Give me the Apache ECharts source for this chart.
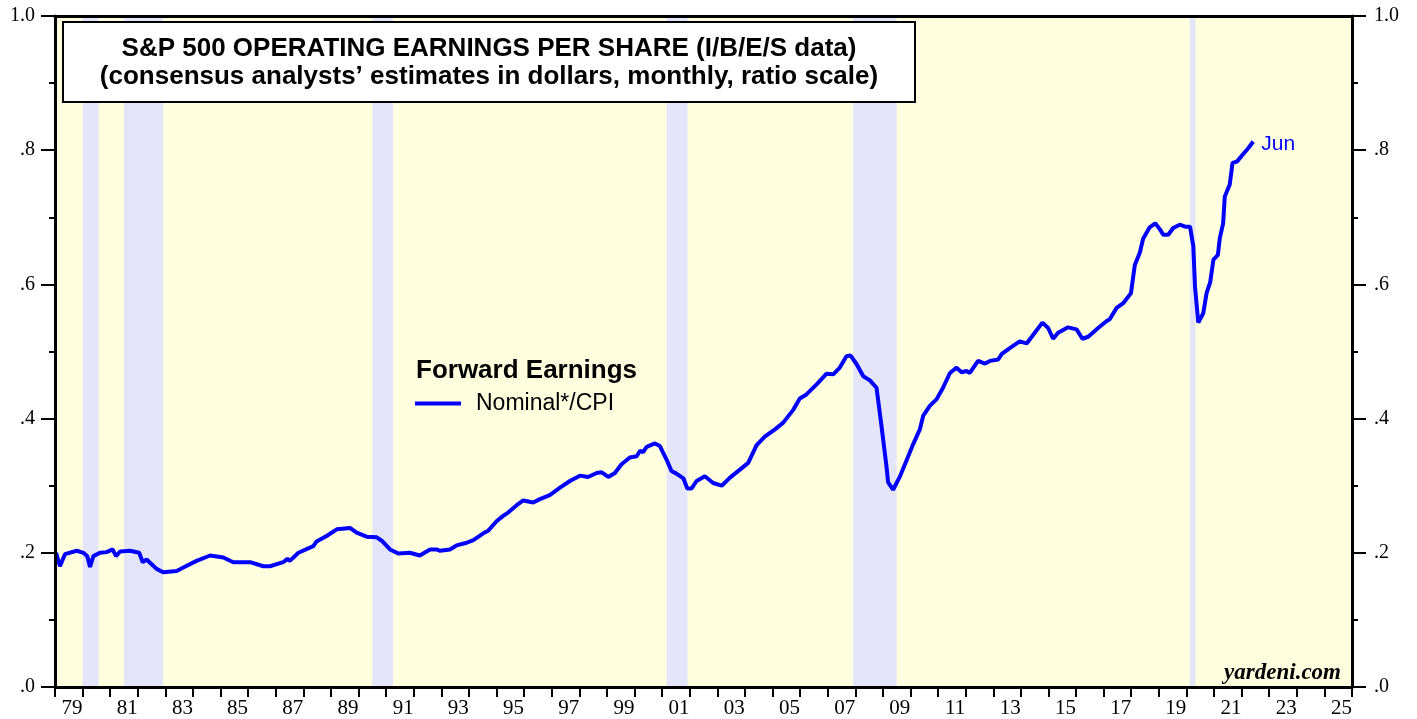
<!DOCTYPE html>
<html>
<head>
<meta charset="utf-8">
<title>S&amp;P 500 Forward Earnings / CPI</title>
<script src="https://cdn.jsdelivr.net/npm/echarts@6/dist/echarts.min.js"></script>
<style>
  html, body { margin: 0; padding: 0; background: #fff; }
  #chart { width: 1417px; height: 719px; }
</style>
</head>
<body>
<div id="chart"></div>
<script>
// forward earnings (nominal / CPI), date as decimal year
const dates = [
  1979.04, 1979.18, 1979.36, 1979.79, 1980.03, 1980.17, 1980.27, 1980.39, 1980.63, 1980.87,
  1981.09, 1981.21, 1981.36, 1981.72, 1982.05, 1982.18, 1982.32, 1982.68, 1982.92, 1983.41,
  1983.65, 1984.13, 1984.62, 1985.10, 1985.46, 1986.07, 1986.55, 1986.79, 1987.27, 1987.42,
  1987.51, 1987.82, 1988.36, 1988.48, 1988.84, 1989.21, 1989.69, 1989.93, 1990.29, 1990.66,
  1990.84, 1991.14, 1991.44, 1991.86, 1992.22, 1992.59, 1992.83, 1992.95, 1993.31, 1993.55,
  1993.92, 1994.16, 1994.52, 1994.70, 1995.00, 1995.24, 1995.42, 1995.73, 1995.97, 1996.33,
  1996.57, 1996.93, 1997.30, 1997.66, 1998.02, 1998.32, 1998.63, 1998.81, 1999.05, 1999.29,
  1999.53, 1999.83, 2000.08, 2000.20, 2000.31, 2000.44, 2000.74, 2000.92, 2001.16, 2001.34,
  2001.52, 2001.77, 2001.91, 2002.07, 2002.25, 2002.55, 2002.85, 2003.16, 2003.46, 2003.82,
  2004.12, 2004.42, 2004.72, 2005.09, 2005.39, 2005.75, 2005.99, 2006.23, 2006.60, 2006.96,
  2007.20, 2007.44, 2007.68, 2007.83, 2008.05, 2008.29, 2008.53, 2008.77, 2008.95, 2009.13,
  2009.19, 2009.37, 2009.62, 2009.86, 2010.10, 2010.34, 2010.46, 2010.70, 2010.95, 2011.18,
  2011.43, 2011.67, 2011.85, 2012.03, 2012.15, 2012.45, 2012.70, 2012.88, 2013.18, 2013.30,
  2013.60, 2013.96, 2014.21, 2014.45, 2014.78, 2014.99, 2015.17, 2015.35, 2015.71, 2016.02,
  2016.23, 2016.44, 2016.80, 2017.10, 2017.22, 2017.47, 2017.71, 2017.99, 2018.13, 2018.31,
  2018.43, 2018.67, 2018.87, 2019.04, 2019.16, 2019.34, 2019.52, 2019.76, 2019.95, 2020.13,
  2020.25, 2020.31, 2020.43, 2020.61, 2020.73, 2020.86, 2020.98, 2021.14, 2021.21, 2021.33,
  2021.39, 2021.57, 2021.67, 2021.83, 2022.05, 2022.24, 2022.42
];
const values = [
  0.200, 0.180, 0.198, 0.203, 0.200, 0.195, 0.179, 0.195, 0.200, 0.201,
  0.205, 0.195, 0.202, 0.203, 0.200, 0.186, 0.190, 0.176, 0.171, 0.173,
  0.178, 0.188, 0.196, 0.193, 0.186, 0.186, 0.180, 0.180, 0.186, 0.191,
  0.188, 0.200, 0.210, 0.217, 0.225, 0.235, 0.237, 0.230, 0.224, 0.223,
  0.218, 0.205, 0.199, 0.200, 0.196, 0.205, 0.205, 0.203, 0.205, 0.211,
  0.215, 0.219, 0.229, 0.233, 0.247, 0.255, 0.260, 0.271, 0.278, 0.275,
  0.280, 0.286, 0.297, 0.307, 0.315, 0.313, 0.319, 0.320, 0.313, 0.319,
  0.332, 0.342, 0.344, 0.352, 0.350, 0.358, 0.363, 0.359, 0.339, 0.322,
  0.318, 0.311, 0.296, 0.296, 0.307, 0.314, 0.304, 0.300, 0.312, 0.324,
  0.334, 0.360, 0.373, 0.384, 0.394, 0.413, 0.430, 0.436, 0.451, 0.467,
  0.466, 0.476, 0.493, 0.494, 0.481, 0.463, 0.457, 0.446, 0.389, 0.329,
  0.305, 0.294, 0.314, 0.338, 0.362, 0.384, 0.404, 0.419, 0.429, 0.446,
  0.468, 0.476, 0.469, 0.471, 0.468, 0.486, 0.482, 0.486, 0.488, 0.496,
  0.505, 0.515, 0.512, 0.525, 0.543, 0.535, 0.519, 0.528, 0.536, 0.533,
  0.519, 0.522, 0.535, 0.545, 0.548, 0.565, 0.572, 0.587, 0.629, 0.647,
  0.668, 0.685, 0.691, 0.682, 0.674, 0.674, 0.684, 0.689, 0.686, 0.686,
  0.657, 0.597, 0.543, 0.557, 0.587, 0.603, 0.637, 0.644, 0.669, 0.691,
  0.731, 0.749, 0.781, 0.783, 0.794, 0.803, 0.813
];

// recessions (shaded)
const recStart = [1980.00, 1981.50, 1990.50, 2001.16, 2007.92, 2020.12];
const recEnd   = [1980.58, 1982.92, 1991.25, 2001.92, 2009.50, 2020.33];

const seriesName = 'Nominal*/CPI';
const lastLabel = 'Jun';
const titleLines = [
  'S&P 500 OPERATING EARNINGS PER SHARE (I/B/E/S data)',
  '(consensus analysts\u2019 estimates in dollars, monthly, ratio scale)'
];

const SANS = '"Liberation Sans", Arial, sans-serif';
const SERIF = '"Liberation Serif", "Times New Roman", serif';

const chart = echarts.init(document.getElementById('chart'));

function yLabel(v) {
  if (v >= 1) return '1.0';
  return '.' + Math.round(v * 10);
}

function yAxisCfg(pos, margin) {
  return {
    type: 'value',
    position: pos,
    min: 0,
    max: 1,
    interval: 0.2,
    z: 5,
    axisLine: { show: true, lineStyle: { color: '#000', width: 3 } },
    axisTick: { show: true, inside: false, length: 14, lineStyle: { color: '#000', width: 2 } },
    minorTick: { show: true, splitNumber: 2, length: 6, lineStyle: { color: '#000', width: 2 } },
    axisLabel: {
      margin: margin,
      formatter: yLabel,
      color: '#000',
      fontFamily: SERIF,
      fontSize: 20
    },
    splitLine: { show: false }
  };
}

const option = {
  animation: false,
  backgroundColor: '#fff',
  grid: {
    left: 55, right: 65, top: 16, bottom: 31,
    show: true,
    borderWidth: 0,
    backgroundColor: '#FFFFE0'
  },
  xAxis: [{
    type: 'value',
    min: 1979,
    max: 2026,
    interval: 1,
    z: 5,
    axisLine: { show: true, onZero: false, lineStyle: { color: '#000', width: 3 } },
    axisTick: { show: true, length: 10, lineStyle: { color: '#000', width: 2 } },
    axisLabel: {
      margin: 11,
      color: '#000',
      fontFamily: SERIF,
      fontSize: 21,
      padding: [0, 0, 0, 34],
      showMinLabel: true,
      showMaxLabel: true,
      formatter: function (v) {
        if (v % 2 === 1 && v < 2026) return String(v % 100).padStart(2, '0');
        return '';
      }
    },
    splitLine: { show: false }
  }, {
    type: 'value',
    position: 'top',
    min: 1979,
    max: 2026,
    z: 5,
    axisLine: { show: true, onZero: false, lineStyle: { color: '#000', width: 3 } },
    axisTick: { show: false },
    axisLabel: { show: false },
    splitLine: { show: false }
  }],
  yAxis: [yAxisCfg('left', 20), yAxisCfg('right', 22)],
  legend: {
    data: [seriesName],
    left: 410,
    top: 387,
    icon: 'rect',
    itemWidth: 46,
    itemHeight: 4,
    selectedMode: false,
    textStyle: {
      color: '#000',
      fontFamily: SANS,
      fontSize: 23,
      padding: [0, 0, 0, 10]
    }
  },
  series: [{
    name: seriesName,
    type: 'line',
    data: dates.map((d, i) => [d, values[i]]),
    showSymbol: false,
    color: '#0000FF',
    lineStyle: { color: '#0000FF', width: 4 },
    z: 3,
    endLabel: {
      show: true,
      formatter: lastLabel,
      color: '#0000FF',
      fontFamily: SANS,
      fontSize: 21,
      distance: 8,
      offset: [0, 3]
    },
    markArea: {
      silent: true,
      itemStyle: { color: '#E4E4FA' },
      data: recStart.map((s, i) => [{ xAxis: s }, { xAxis: recEnd[i] }])
    }
  }],
  graphic: [
    {
      type: 'rect',
      z: 100,
      shape: { x: 63, y: 22, width: 852, height: 80 },
      style: { fill: '#fff', stroke: '#000', lineWidth: 2 }
    },
    {
      type: 'text', z: 101, x: 489, y: 49,
      style: {
        text: titleLines[0], align: 'center', verticalAlign: 'middle',
        font: 'bold 26px ' + SANS, fill: '#000'
      }
    },
    {
      type: 'text', z: 101, x: 489, y: 77,
      style: {
        text: titleLines[1], align: 'center', verticalAlign: 'middle',
        font: 'bold 26px ' + SANS, fill: '#000'
      }
    },
    {
      type: 'text', z: 101, x: 416, y: 371,
      style: {
        text: 'Forward Earnings', align: 'left', verticalAlign: 'middle',
        font: 'bold 26px ' + SANS, fill: '#000'
      }
    },
    {
      type: 'text', z: 101, x: 1341, y: 673,
      style: {
        text: 'yardeni.com', align: 'right', verticalAlign: 'middle',
        font: 'italic bold 23px ' + SERIF, fill: '#000'
      }
    }
  ]
};

chart.setOption(option);
</script>
</body>
</html>
